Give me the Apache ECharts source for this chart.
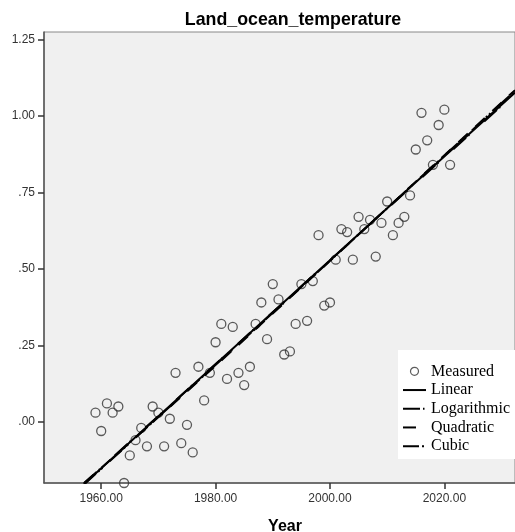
<!DOCTYPE html>
<html>
<head>
<meta charset="utf-8">
<script src="https://cdn.jsdelivr.net/npm/echarts@6/dist/echarts.min.js"></script>
<style>
html,body{margin:0;padding:0;background:#fff;}
#chart{width:515px;height:532px;}
</style>
</head>
<body>
<div id="chart"></div>
<script>
var years = [1959,1960,1961,1962,1963,1964,1965,1966,1967,1968,1969,1970,1971,1972,1973,1974,1975,1976,1977,1978,1979,
  1980,1981,1982,1983,1984,1985,1986,1987,1988,1989,1990,1991,1992,1993,1994,1995,1996,1997,1998,1999,
  2000,2001,2002,2003,2004,2005,2006,2007,2008,2009,2010,2011,2012,2013,2014,2015,2016,2017,2018,2019,2020,2021];
var measured = [0.03,-0.03,0.06,0.03,0.05,-0.20,-0.11,-0.06,-0.02,-0.08,0.05,0.03,-0.08,0.01,0.16,-0.07,-0.01,-0.10,0.18,0.07,0.16,
  0.26,0.32,0.14,0.31,0.16,0.12,0.18,0.32,0.39,0.27,0.45,0.40,0.22,0.23,0.32,0.45,0.33,0.46,0.61,0.38,
  0.39,0.53,0.63,0.62,0.53,0.67,0.63,0.66,0.54,0.65,0.72,0.61,0.65,0.67,0.74,0.89,1.01,0.92,0.84,0.97,1.02,0.84];

// Fitted curves (values at these years)
var fitYears = [1957, 1975, 1995, 2015, 2032.35];
var linearFit = [-0.203, 0.103, 0.443, 0.783, 1.076];
var logFit = [-0.201, 0.104, 0.443, 0.781, 1.072];
var quadFit = [-0.200, 0.099, 0.440, 0.785, 1.084];
var cubicFit = [-0.205, 0.101, 0.441, 0.784, 1.082];

// Tick labels
var xTickValues = [1960, 1980, 2000, 2020];
var yTickValues = [0, 0.25, 0.5, 0.75, 1.0, 1.25];

function pairs(xs, ys) { return xs.map(function (x, i) { return [x, ys[i]]; }); }

var chart = echarts.init(document.getElementById('chart'), null, {renderer: 'canvas'});
var sans = 'Liberation Sans, Arial, sans-serif';
var serif = 'Liberation Serif, Times New Roman, serif';

function lineSeries(name, data, type, smooth) {
  return {
    name: name, type: 'line', data: pairs(fitYears, data), symbol: 'none', smooth: smooth,
    clip: true, z: 3,
    lineStyle: {color: '#000', width: 2, type: type},
    itemStyle: {color: '#000'},
    emphasis: {disabled: true}
  };
}

var option = {
  animation: false,
  backgroundColor: '#fff',
  title: {
    text: 'Land_ocean_temperature', left: 288, top: 6, textAlign: 'center',
    textStyle: {fontFamily: sans, fontWeight: 'bold', fontSize: 17.8, color: '#000'}
  },
  grid: {
    left: 44, right: 0, top: 32, bottom: 49, show: true, outerBoundsMode: 'none', containLabel: false,
    backgroundColor: '#f0f0f0', borderColor: '#888', borderWidth: 1
  },
  legend: {
    orient: 'vertical', left: 398, top: 350,
    padding: [12, 40, 3.6, 4],
    backgroundColor: '#fff',
    itemWidth: 23, itemHeight: 8, itemGap: 0,
    selectedMode: false,
    itemStyle: {borderWidth: 1.2},
    textStyle: {fontFamily: serif, fontSize: 16, color: '#000', lineHeight: 18.7},
    data: [
      'Measured',
      {name: 'Linear', itemStyle: {opacity: 0}},
      {name: 'Logarithmic', itemStyle: {opacity: 0}},
      {name: 'Quadratic', itemStyle: {opacity: 0}},
      {name: 'Cubic', itemStyle: {opacity: 0}}
    ]
  },
  xAxis: {
    type: 'value', min: 1950, max: 2032.35,
    name: 'Year', nameLocation: 'middle', nameGap: 36,
    nameTextStyle: {fontFamily: sans, fontWeight: 'bold', fontSize: 16, color: '#000', padding: [0, 0, 0, 11]},
    axisLine: {show: true, onZero: false, lineStyle: {color: '#555', width: 1.5}},
    axisTick: {show: true, inside: false, length: 6, customValues: xTickValues, lineStyle: {color: '#333', width: 1.5}},
    axisLabel: {
      customValues: xTickValues, margin: 10, fontFamily: sans, fontSize: 12, color: '#333',
      formatter: function (v) { return (Math.abs(v % 20) < 1e-9) ? v.toFixed(2) : ''; }
    },
    splitLine: {show: false}
  },
  yAxis: {
    type: 'value', min: -0.2, max: 1.274,
    axisLine: {show: true, onZero: false, lineStyle: {color: '#555', width: 1.5}},
    axisTick: {show: true, inside: false, length: 6, customValues: yTickValues, lineStyle: {color: '#333', width: 1.5}},
    axisLabel: {
      customValues: yTickValues, margin: 9, fontFamily: sans, fontSize: 12, color: '#333',
      formatter: function (v) {
        if (Math.abs(Math.round(v * 4) - v * 4) > 1e-6) return '';
        var s = v.toFixed(2);
        if (s.indexOf('0.') === 0) s = s.slice(1);
        return s;
      }
    },
    splitLine: {show: false}
  },
  series: [
    {
      name: 'Measured', type: 'scatter', data: pairs(years, measured),
      symbol: 'circle', symbolSize: 9, z: 2,
      itemStyle: {color: 'rgba(255,255,255,0)', borderColor: '#333', borderWidth: 1.3},
      emphasis: {disabled: true}
    },
    lineSeries('Linear', linearFit, 'solid', false),
    lineSeries('Logarithmic', logFit, [17, 3, 1.5, 20], false),
    lineSeries('Quadratic', quadFit, [13, 10], true),
    lineSeries('Cubic', cubicFit, [16, 3, 2, 2, 2, 10], true)
  ]
};
chart.setOption(option);
</script>
</body>
</html>
